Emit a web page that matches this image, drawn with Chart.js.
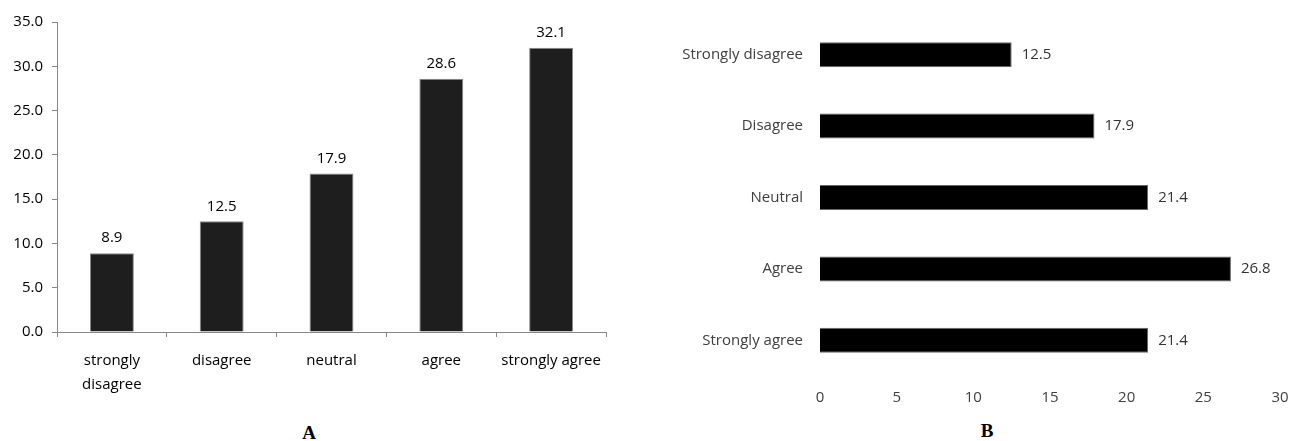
<!DOCTYPE html>
<html>
<head>
    <title>Agreement Charts</title>
    <script src="https://cdn.jsdelivr.net/npm/chart.js"></script>
    <style>
        body { margin: 0; background: #fff; width: 1291px; height: 441px; position: relative; overflow: hidden; }
        .panel { position: absolute; top: 0; }
        .letter { position: absolute; font-family: "Liberation Serif", serif; font-weight: bold; font-size: 19px; color: #000; transform: translateX(-50%); }
    </style>
</head>
<body>
    <div class="panel" style="left:0; width:640px; height:400px;"><canvas id="chartA"></canvas></div>
    <div class="panel" style="left:650px; width:641px; height:415px;"><canvas id="chartB"></canvas></div>
    <div class="letter" style="left:309px; top:422px;">A</div>
    <div class="letter" style="left:987px; top:420px;">B</div>

    <script>
        // Panel A: percentage per response, lower-case labels
        const labelsA = [['strongly', 'disagree'], 'disagree', 'neutral', 'agree', 'strongly agree'];
        const valuesA = [8.9, 12.5, 17.9, 28.6, 32.1];
        const ticksA = [0, 5, 10, 15, 20, 25, 30, 35];

        // Panel B: percentage per response, capitalised labels
        const labelsB = ['Strongly disagree', 'Disagree', 'Neutral', 'Agree', 'Strongly agree'];
        const valuesB = [12.5, 17.9, 21.4, 26.8, 21.4];
        const ticksB = [0, 5, 10, 15, 20, 25, 30];

        const FONT = '"Open Sans", Lato, sans-serif';

        // writes each bar's value next to its end
        const valueLabels = {
            id: 'valueLabels',
            afterDatasetsDraw(chart, args, opts) {
                const ctx = chart.ctx;
                const meta = chart.getDatasetMeta(0);
                const data = chart.data.datasets[0].data;
                ctx.save();
                ctx.font = opts.size + 'px ' + FONT;
                ctx.fillStyle = opts.color;
                ctx.textBaseline = 'middle';
                meta.data.forEach((bar, i) => {
                    const txt = data[i].toFixed(1);
                    if (opts.horizontal) {
                        ctx.textAlign = 'left';
                        ctx.fillText(txt, bar.x + 10, bar.y);
                    } else {
                        ctx.textAlign = 'center';
                        ctx.fillText(txt, bar.x, bar.y - 15);
                    }
                });
                ctx.restore();
            }
        };

        new Chart(document.getElementById('chartA'), {
            type: 'bar',
            data: {
                labels: labelsA,
                datasets: [{
                    data: valuesA,
                    backgroundColor: '#1e1e1e',
                    borderColor: '#8a8a8a',
                    borderWidth: 1,
                    categoryPercentage: 1.0,
                    barPercentage: 0.4
                }]
            },
            options: {
                responsive: true,
                maintainAspectRatio: false,
                animation: false,
                layout: { padding: { top: 22, right: 34 } },
                plugins: {
                    legend: { display: false },
                    tooltip: { enabled: false },
                    valueLabels: { size: 15, color: '#000' }
                },
                scales: {
                    x: {
                        grid: { drawOnChartArea: false, drawTicks: true, tickLength: 5, color: '#888', offset: true },
                        border: { display: true, color: '#888' },
                        ticks: { color: '#000', padding: 12, font: { family: FONT, size: 15, lineHeight: 1.6 }, maxRotation: 0 },
                        afterFit(scale) { scale.height = 68; }
                    },
                    y: {
                        min: 0,
                        max: 35,
                        afterBuildTicks(scale) { scale.ticks = ticksA.map(v => ({ value: v })); },
                        grid: { drawOnChartArea: false, drawTicks: true, tickLength: 5, color: '#888' },
                        border: { display: true, color: '#888' },
                        ticks: { color: '#000', padding: 9, font: { family: FONT, size: 15 }, callback: v => v.toFixed(1) },
                        afterFit(scale) { scale.width = 57; }
                    }
                }
            },
            plugins: [valueLabels]
        });

        new Chart(document.getElementById('chartB'), {
            type: 'bar',
            data: {
                labels: labelsB,
                datasets: [{
                    data: valuesB,
                    backgroundColor: '#000',
                    borderColor: '#666',
                    borderWidth: 1,
                    categoryPercentage: 1.0,
                    barPercentage: 0.35
                }]
            },
            options: {
                indexAxis: 'y',
                responsive: true,
                maintainAspectRatio: false,
                animation: false,
                layout: { padding: { top: 19, right: 11 } },
                plugins: {
                    legend: { display: false },
                    tooltip: { enabled: false },
                    valueLabels: { size: 15, color: '#333', horizontal: true }
                },
                scales: {
                    x: {
                        min: 0,
                        max: 30,
                        afterBuildTicks(scale) { scale.ticks = ticksB.map(v => ({ value: v })); },
                        grid: { display: false, drawTicks: false },
                        border: { display: false },
                        ticks: { color: '#404040', padding: 13, font: { family: FONT, size: 15 } },
                        afterFit(scale) {
                            scale.height = 39;
                            scale.paddingLeft = 0;
                            scale.paddingRight = 0;
                        }
                    },
                    y: {
                        grid: { display: false, drawTicks: false },
                        border: { display: false },
                        ticks: { color: '#404040', padding: 17, font: { family: FONT, size: 15 } },
                        afterFit(scale) {
                            scale.width = 170;
                            scale.paddingTop = 0;
                            scale.paddingBottom = 0;
                        }
                    }
                }
            },
            plugins: [valueLabels]
        });
    </script>
</body>
</html>
